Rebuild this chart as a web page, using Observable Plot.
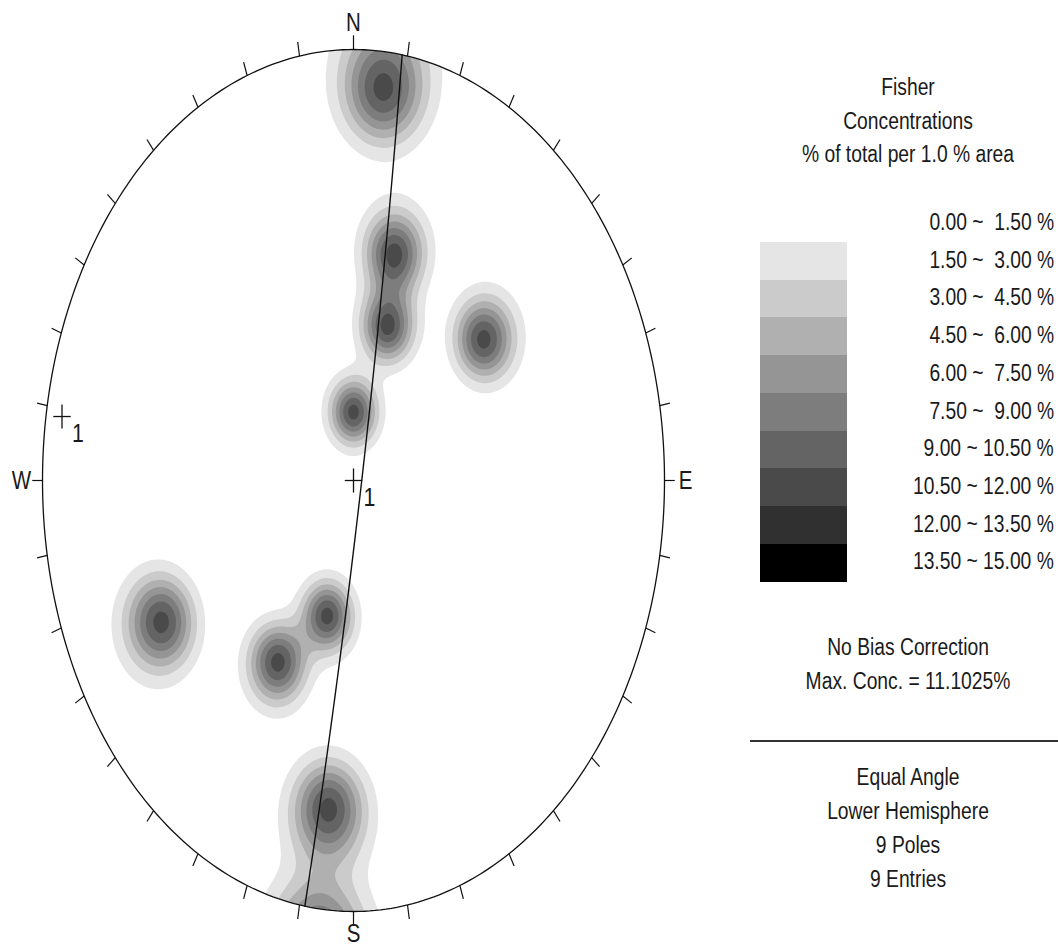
<!DOCTYPE html>
<html>
<head>
<meta charset="utf-8">
<script src="https://cdn.jsdelivr.net/npm/d3@7"></script>
<script src="https://cdn.jsdelivr.net/npm/@observablehq/plot@0.6"></script>
<style>
html, body { margin:0; padding:0; background:#fff; }
#wrap { position:relative; width:1058px; height:950px; overflow:hidden;
  font-family:"Liberation Sans Narrow","Arial Narrow","Liberation Sans",Arial,sans-serif; color:#1a1a1a; }
#chart { position:absolute; left:0; top:0; }
.t { position:absolute; font-size:23.5px; white-space:pre; line-height:1; }
.c { transform:translate(-50%,-50%) scaleX(0.82); transform-origin:50% 50%; }
.r { transform:translateY(-50%) scaleX(0.82); transform-origin:100% 50%; text-align:right; }
.sw { position:absolute; }
.rule { position:absolute; height:2px; background:#333; }
</style>
</head>
<body>
<div id="wrap"><div id="chart"></div></div>
<script>
// ---- data ----
const poleTrend  = [6, 14, 17, 52, 0, 242, 210, 195, 186];   // pole trends (deg)
const polePlunge = [5, 33, 49, 34, 72, 20, 38, 54, 15];      // pole plunges (deg)
const fisherK = 100;
const thresholds = [1.5, 3, 4.5, 6, 7.5, 9, 10.5, 12, 13.5];
const grays = ["#e5e5e5","#cbcbcb","#b0b0b0","#959595","#7d7d7d","#646464","#4a4a4a","#303030","#000000"];
const legendLabels = ["0.00 ~  1.50 %","1.50 ~  3.00 %","3.00 ~  4.50 %","4.50 ~  6.00 %","6.00 ~  7.50 %",
  "7.50 ~  9.00 %","9.00 ~ 10.50 %","10.50 ~ 12.00 %","12.00 ~ 13.50 %","13.50 ~ 15.00 %"];
const planeStrike = [9];
const planeDip = [87];
const markerTrend = [279, 0];
const markerPlunge = [3, 90];
const markerLabel = ["1", "1"];
const cardinalText = ["N", "E", "S", "W"];
const cardinalAz = [0, 90, 180, 270];
const tickAz = d3.range(0, 360, 10);
const titleLines = ["Fisher", "Concentrations", "% of total per 1.0 % area"];
const infoLines = ["No Bias Correction", "Max. Conc. = 11.1025%"];
const footLines = ["Equal Angle", "Lower Hemisphere", poleTrend.length + " Poles", poleTrend.length + " Entries"];

// ---- stereonet math (equal angle, lower hemisphere) ----
const rad = Math.PI / 180;
function dirVec(trend, plunge) {
  const t = trend * rad, p = plunge * rad;
  return [Math.cos(p) * Math.sin(t), Math.cos(p) * Math.cos(t), Math.sin(p)];
}
function project(v) {
  let [e, n, d] = v;
  if (d < 0) { e = -e; n = -n; d = -d; }
  return [e / (1 + d), n / (1 + d)];
}
function unproject(u, v) {
  const r2 = u * u + v * v;
  return [2 * u / (1 + r2), 2 * v / (1 + r2), (1 - r2) / (1 + r2)];
}
const poles = poleTrend.map((t, i) => dirVec(t, polePlunge[i]));
function density(u, v) {
  const p = unproject(u, v);
  let s = 0;
  for (const q of poles) {
    const c = p[0] * q[0] + p[1] * q[1] + p[2] * q[2];
    s += Math.exp(fisherK * (c - 1)) + Math.exp(fisherK * (-c - 1));
  }
  return fisherK / poles.length * s;
}
const primitive = d3.range(0, 361, 1).map(a => [Math.sin(a * rad), Math.cos(a * rad)]);
const greatCircles = planeStrike.flatMap((s, i) => {
  const S = dirVec(s, 0), D = dirVec(s + 90, planeDip[i]);
  return d3.range(0, 181, 1).map(t => {
    const c = Math.cos(t * rad), sn = Math.sin(t * rad);
    const [u, v] = project([c * S[0] + sn * D[0], c * S[1] + sn * D[1], c * S[2] + sn * D[2]]);
    return {u, v, plane: i};
  });
});
const markers = markerTrend.map((t, i) => {
  const [u, v] = project(dirVec(t, markerPlunge[i]));
  return {u, v, label: markerLabel[i]};
});
const cs = 0.028; // cross half size (normalized)
const labelR = [1.062, 1.068, 1.052, 1.068];

const plot = Plot.plot({
  width: 720, height: 950, margin: 0,
  x: {domain: [-1, 1], range: [42, 664], axis: null},
  y: {domain: [-1, 1], range: [911, 49], axis: null},
  color: {type: "threshold", domain: thresholds.slice(1), range: grays},
  style: {background: "transparent", fontFamily: '"Liberation Sans Narrow","Arial Narrow","Liberation Sans",Arial,sans-serif', color: "#1a1a1a"},
  marks: [
    Plot.contour({x1: -1, x2: 1, y1: -1, y2: 1, fill: (x, y) => density(x, y), thresholds, stroke: "none", pixelSize: 2}),
    Plot.line(greatCircles, {x: "u", y: "v", z: "plane", stroke: "#111", strokeWidth: 1.4}),
    Plot.line(primitive, {x: d => d[0], y: d => d[1], stroke: "#111", strokeWidth: 1.3}),
    Plot.link(tickAz, {x1: a => Math.sin(a * rad), y1: a => Math.cos(a * rad),
      x2: a => 1.033 * Math.sin(a * rad), y2: a => 1.033 * Math.cos(a * rad), stroke: "#111", strokeWidth: 1.2}),
    Plot.text(cardinalText, {x: (d, i) => labelR[i] * Math.sin(cardinalAz[i] * rad), y: (d, i) => labelR[i] * Math.cos(cardinalAz[i] * rad),
      text: d => d, fontSize: 25, fill: "#1a1a1a"}),
    Plot.link(markers, {x1: d => d.u - cs, x2: d => d.u + cs, y1: "v", y2: "v", stroke: "#111", strokeWidth: 1.3}),
    Plot.link(markers, {x1: "u", x2: "u", y1: d => d.v - cs, y2: d => d.v + cs, stroke: "#111", strokeWidth: 1.3}),
    Plot.text(markers, {x: "u", y: "v", text: "label", dx: 10, dy: 17, textAnchor: "start", fontSize: 26, fill: "#1a1a1a"})
  ]
});

// narrow the SVG labels (Arial Narrow look)
plot.querySelectorAll('g[aria-label="text"] text').forEach(t => {
  const tr = t.getAttribute("transform") || "";
  t.setAttribute("transform", tr + " scale(0.82,1)");
});

// clip the density contours to the primitive
const ns = "http://www.w3.org/2000/svg";
const xs = plot.scale("x"), ys = plot.scale("y");
const cx = xs.apply(0), cy = ys.apply(0);
const defs = document.createElementNS(ns, "defs");
const cp = document.createElementNS(ns, "clipPath");
cp.setAttribute("id", "primclip");
const el = document.createElementNS(ns, "ellipse");
el.setAttribute("cx", cx); el.setAttribute("cy", cy);
el.setAttribute("rx", xs.apply(1) - cx); el.setAttribute("ry", cy - ys.apply(1));
cp.appendChild(el); defs.appendChild(cp); plot.insertBefore(defs, plot.firstChild);
const cg = plot.querySelector('g[aria-label="contour"]');
if (cg) cg.setAttribute("clip-path", "url(#primclip)");
document.getElementById("chart").appendChild(plot);

// ---- side legend (HTML) ----
const wrap = document.getElementById("wrap");
function addText(txt, x, y, cls) {
  const d = document.createElement("div");
  d.className = "t " + cls;
  d.textContent = txt;
  d.style.top = y + "px";
  if (cls === "r") d.style.right = (1058 - x) + "px"; else d.style.left = x + "px";
  wrap.appendChild(d);
}
const color = plot.scale("color");
const centerX = 908;
titleLines.forEach((t, i) => addText(t, centerX, 88 + 33.5 * i, "c"));
const rowH = 37.7;
grays.forEach((g, i) => {
  const s = document.createElement("div");
  s.className = "sw";
  s.style.left = "760px"; s.style.width = "87px";
  s.style.top = (242 + rowH * i) + "px"; s.style.height = (rowH + 0.5) + "px";
  s.style.background = color.apply(thresholds[i]);
  wrap.appendChild(s);
});
legendLabels.forEach((t, i) => addText(t, 1054, 223 + rowH * i, "r"));
infoLines.forEach((t, i) => addText(t, centerX, 648 + 34 * i, "c"));
const rule = document.createElement("div");
rule.className = "rule";
rule.style.left = "750px"; rule.style.width = "308px"; rule.style.top = "740px";
wrap.appendChild(rule);
footLines.forEach((t, i) => addText(t, centerX, 778 + 34 * i, "c"));
</script>
</body>
</html>
